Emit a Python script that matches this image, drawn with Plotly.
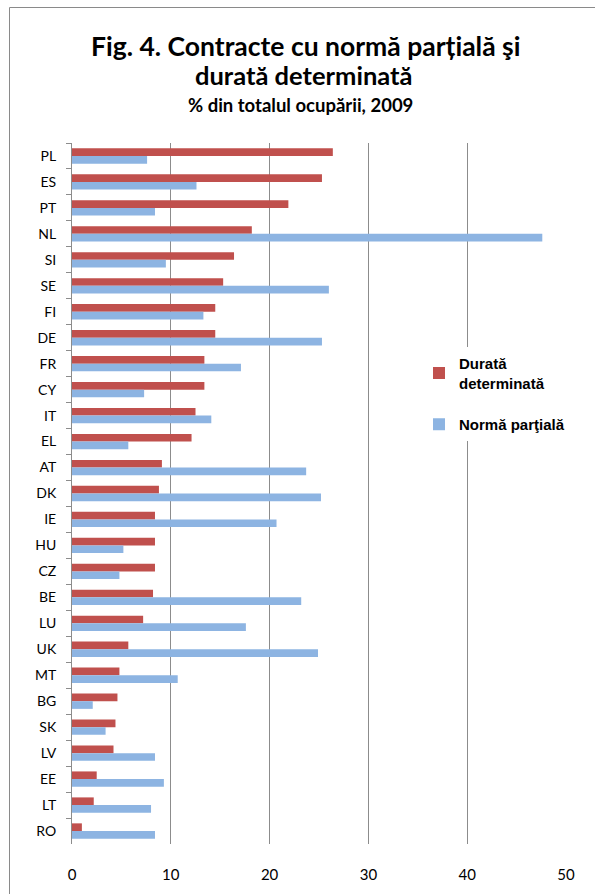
import plotly.graph_objects as go

# Countries, top to bottom
countries = ["PL", "ES", "PT", "NL", "SI", "SE", "FI", "DE", "FR", "CY", "IT", "EL",
             "AT", "DK", "IE", "HU", "CZ", "BE", "LU", "UK", "MT", "BG", "SK", "LV",
             "EE", "LT", "RO"]

# Fixed-term contracts, % of total employment (2009)
durata_determinata = [26.4, 25.3, 21.9, 18.2, 16.4, 15.3, 14.5, 14.5, 13.4, 13.4, 12.5, 12.1,
                      9.1, 8.8, 8.4, 8.4, 8.4, 8.2, 7.2, 5.7, 4.8, 4.6, 4.4, 4.2,
                      2.5, 2.2, 1.0]

# Part-time work, % of total employment (2009)
norma_partiala = [7.6, 12.6, 8.4, 47.6, 9.5, 26.0, 13.3, 25.3, 17.1, 7.3, 14.1, 5.7,
                  23.7, 25.2, 20.7, 5.2, 4.8, 23.2, 17.6, 24.9, 10.7, 2.1, 3.4, 8.4,
                  9.3, 8.0, 8.4]

x_ticks = [0, 10, 20, 30, 40, 50]

W, H = 595, 894
ML, MR, MT, MB = 72, 29, 143, 50
PW, PH = W - ML - MR, H - MT - MB


def px(xp):
    return (xp - ML) / PW


def py(yp):
    return (H - MB - yp) / PH


RED = "#C0504D"
BLUE = "#8DB4E2"
GRID = "#8C8C8C"
TITLE_FONT = "Lato"

fig = go.Figure()
fig.add_trace(go.Bar(
    y=countries, x=durata_determinata, orientation="h",
    name="<b>Durată<br>determinată</b>", marker=dict(color=RED, line=dict(width=0)),
    legendgroup="a",
))
fig.add_trace(go.Bar(
    y=countries, x=norma_partiala, orientation="h",
    name="<b>Normă parţială</b>", marker=dict(color=BLUE, line=dict(width=0)),
    legendgroup="b",
))

fig.update_layout(
    width=W, height=H,
    margin=dict(l=ML, r=MR, t=MT, b=MB),
    paper_bgcolor="white", plot_bgcolor="white",
    barmode="group", bargap=0.41, bargroupgap=0,
    showlegend=True,
    legend=dict(
        x=px(419), y=py(347), xanchor="left", yanchor="top",
        font=dict(family="Liberation Sans", size=15, color="#000000"),
        tracegroupgap=19, itemwidth=30,
        bgcolor="rgba(255,255,255,1)",
        traceorder="grouped",
    ),
    xaxis=dict(
        range=[0, 50], tickvals=x_ticks, ticktext=[str(v) for v in x_ticks],
        showgrid=True, gridcolor=GRID, gridwidth=1,
        showline=False, zeroline=False, ticks="",
        tickfont=dict(family=TITLE_FONT, size=15, color="#000000"),
        ticklabelstandoff=20, fixedrange=True,
    ),
    yaxis=dict(
        categoryorder="array", categoryarray=countries, autorange="reversed",
        showline=True, linecolor=GRID, linewidth=1,
        ticks="outside", ticklen=5, tickcolor=GRID, tickson="boundaries",
        showgrid=False, zeroline=False,
        tickfont=dict(family=TITLE_FONT, size=14, color="#000000"),
        ticklabelstandoff=12, fixedrange=True,
    ),
    annotations=[
        dict(text="<b>Fig. 4. Contracte cu normă parțială şi</b>", x=px(305), y=py(46),
             xref="paper", yref="paper", xanchor="center", yanchor="middle",
             showarrow=False, font=dict(family=TITLE_FONT, size=26.5, color="#000000")),
        dict(text="<b>durată determinată</b>", x=px(303), y=py(75),
             xref="paper", yref="paper", xanchor="center", yanchor="middle",
             showarrow=False, font=dict(family=TITLE_FONT, size=25.5, color="#000000")),
        dict(text="<b>% din totalul ocupării, 2009</b>", x=px(300), y=py(105),
             xref="paper", yref="paper", xanchor="center", yanchor="middle",
             showarrow=False, font=dict(family=TITLE_FONT, size=18.5, color="#000000")),
    ],
    shapes=[
        dict(type="rect", xref="paper", yref="paper",
             x0=px(9.5), x1=px(W + 10), y0=py(7.5), y1=py(H + 10),
             line=dict(color="#8A8A8A", width=1), fillcolor="rgba(0,0,0,0)", layer="below"),
    ],
)

fig.write_html("out.html")
